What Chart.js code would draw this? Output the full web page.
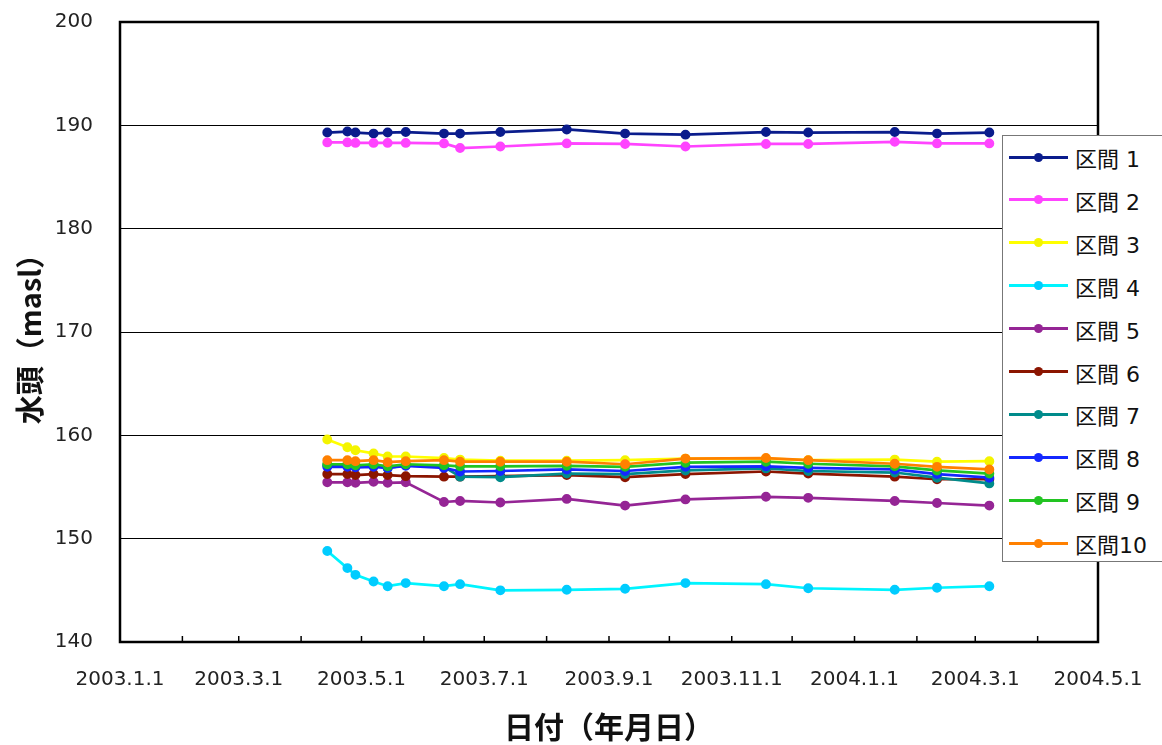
<!DOCTYPE html>
<html>
<head>
<meta charset="utf-8">
<script src="https://cdn.jsdelivr.net/npm/chart.js@4"></script>
<style>
  body { margin: 0; background: #fff; }
  #wrap { position: relative; width: 1162px; height: 745px; }
  #legend {
    position: absolute; left: 1002px; top: 135px; width: 170px; height: 427px;
    border: 1px solid #777; background: #fff; box-sizing: border-box;
    font-family: "DejaVu Sans", "Noto Sans CJK JP", sans-serif; font-size: 22px; color: #111;
  }
  .row { position: absolute; left: 0; height: 26px; display: flex; align-items: center; }
  .sw { position: relative; width: 59px; height: 3px; margin-left: 6px; margin-right: 7px; }
  .dot { position: absolute; left: 25px; top: -3px; width: 9px; height: 9px; border-radius: 50%; }
</style>
</head>
<body>
<div id="wrap">
  <canvas id="chart" width="1162" height="745"></canvas>
  <div id="legend"></div>
</div>
<script>
// measurement dates
const dates = ['2003-04-14', '2003-04-24', '2003-04-28', '2003-05-07', '2003-05-14', '2003-05-23',
  '2003-06-11', '2003-06-19', '2003-07-09', '2003-08-11', '2003-09-09', '2003-10-09',
  '2003-11-18', '2003-12-09', '2004-01-21', '2004-02-11', '2004-03-08'];

const names = ['区間 1', '区間 2', '区間 3', '区間 4', '区間 5', '区間 6', '区間 7', '区間 8', '区間 9', '区間10'];

const s1 = [189.3, 189.4, 189.3, 189.2, 189.3, 189.35, 189.2, 189.2, 189.35, 189.6, 189.2, 189.1, 189.35, 189.3, 189.35, 189.2, 189.3];
const s2 = [188.35, 188.35, 188.3, 188.3, 188.3, 188.3, 188.25, 187.8, 187.95, 188.25, 188.2, 187.95, 188.2, 188.2, 188.4, 188.25, 188.25];
const s3 = [159.6, 158.85, 158.55, 158.25, 157.95, 157.95, 157.8, 157.65, 157.55, 157.55, 157.6, 157.75, 157.75, 157.6, 157.65, 157.45, 157.5];
const s4 = [148.8, 147.15, 146.5, 145.85, 145.4, 145.7, 145.4, 145.6, 145.0, 145.05, 145.15, 145.7, 145.6, 145.2, 145.05, 145.25, 145.4];
const s5 = [155.45, 155.45, 155.4, 155.5, 155.4, 155.45, 153.55, 153.65, 153.5, 153.85, 153.2, 153.8, 154.05, 153.95, 153.65, 153.45, 153.2];
const s6 = [156.25, 156.25, 156.15, 156.25, 156.15, 156.05, 156.0, 156.0, 156.05, 156.15, 155.95, 156.25, 156.5, 156.3, 156.0, 155.75, 155.75];
const s7 = [157.1, 157.1, 157.0, 157.05, 156.85, 157.1, 156.95, 156.0, 155.95, 156.3, 156.25, 156.6, 156.8, 156.55, 156.4, 155.9, 155.35];
const s8 = [156.95, 156.95, 156.9, 156.95, 156.85, 157.05, 156.85, 156.5, 156.55, 156.7, 156.55, 156.95, 157.0, 156.85, 156.7, 156.25, 155.9];
const s9 = [157.2, 157.2, 157.1, 157.2, 157.0, 157.2, 157.1, 157.0, 157.0, 157.05, 156.95, 157.35, 157.45, 157.25, 157.0, 156.6, 156.3];
const s10 = [157.6, 157.6, 157.5, 157.6, 157.4, 157.5, 157.6, 157.45, 157.45, 157.45, 157.2, 157.75, 157.8, 157.6, 157.25, 156.95, 156.7];

const lineColors = ['#0a1c8c', '#ff44ff', '#ffff00', '#00f4ff', '#952595', '#8b1500', '#008b8b', '#1428ff', '#22c422', '#ff8000'];
const dotColors = ['#0a1c8c', '#ff44ff', '#f4f400', '#00ccff', '#952595', '#8b1500', '#008b8b', '#1428ff', '#22c422', '#ff8000'];

// x axis: labelled every 2 months, small marks every month
const tickDates = ['2003-01-01', '2003-03-01', '2003-05-01', '2003-07-01', '2003-09-01', '2003-11-01', '2004-01-01', '2004-03-01', '2004-05-01'];
const tickLabels = ['2003.1.1', '2003.3.1', '2003.5.1', '2003.7.1', '2003.9.1', '2003.11.1', '2004.1.1', '2004.3.1', '2004.5.1'];
const monthDates = ['2003-01-01', '2003-02-01', '2003-03-01', '2003-04-01', '2003-05-01', '2003-06-01', '2003-07-01', '2003-08-01',
  '2003-09-01', '2003-10-01', '2003-11-01', '2003-12-01', '2004-01-01', '2004-02-01', '2004-03-01', '2004-04-01', '2004-05-01'];

const start = Date.UTC(2003, 0, 1);
const toDay = (s) => (Date.parse(s + 'T00:00:00Z') - start) / 86400000;

const allSeries = [s1, s2, s3, s4, s5, s6, s7, s8, s9, s10];
const numFont = '"DejaVu Sans", sans-serif';
const jpFont = '"Noto Sans CJK JP", sans-serif';

const frame = {
  id: 'frame',
  afterDraw(chart) {
    const { ctx, chartArea: a, scales } = chart;
    ctx.save();
    ctx.strokeStyle = '#000';
    ctx.lineWidth = 1.5;
    monthDates.forEach(d => {
      const x = scales.x.getPixelForValue(toDay(d));
      ctx.beginPath();
      ctx.moveTo(x, a.bottom);
      ctx.lineTo(x, a.bottom - 6);
      ctx.stroke();
    });
    ctx.lineWidth = 2.5;
    ctx.strokeRect(a.left, a.top, a.right - a.left, a.bottom - a.top);
    ctx.restore();
  }
};

new Chart(document.getElementById('chart').getContext('2d'), {
  type: 'line',
  data: {
    datasets: allSeries.map((vals, i) => ({
      label: names[i],
      data: vals.map((v, j) => ({ x: toDay(dates[j]), y: v })),
      borderColor: lineColors[i],
      backgroundColor: dotColors[i],
      pointBackgroundColor: dotColors[i],
      pointBorderColor: dotColors[i],
      borderWidth: 2.7,
      pointRadius: 3.6,
      tension: 0,
      order: 10 - i
    }))
  },
  options: {
    responsive: false,
    animation: false,
    layout: { padding: { top: 22, right: 64, left: 0, bottom: 0 } },
    plugins: { legend: { display: false }, tooltip: { enabled: false } },
    scales: {
      x: {
        type: 'linear',
        min: 0,
        max: toDay('2004-05-01'),
        afterBuildTicks: (axis) => { axis.ticks = tickDates.map(d => ({ value: toDay(d) })); },
        afterFit: (axis) => { axis.height = 103; },
        // tick marks are invisible, they only push the labels down
        grid: { drawOnChartArea: false, drawTicks: true, tickLength: 24, tickColor: 'rgba(0,0,0,0)' },
        border: { display: false },
        ticks: {
          padding: 2,
          maxRotation: 0,
          autoSkip: false,
          color: '#222',
          font: { family: numFont, size: 20 },
          callback: (v) => {
            const k = tickDates.findIndex(d => toDay(d) === v);
            return k >= 0 ? tickLabels[k] : '';
          }
        },
        title: {
          display: true,
          text: '日付（年月日）',
          color: '#111',
          font: { family: jpFont, size: 30, weight: 'bold' },
          padding: { top: 0, bottom: 0 }
        }
      },
      y: {
        min: 140,
        max: 200,
        afterFit: (axis) => { axis.width = 120; },
        grid: { color: '#000', lineWidth: 1, drawTicks: true, tickLength: 25, tickColor: 'rgba(0,0,0,0)' },
        border: { display: false },
        ticks: {
          stepSize: 10,
          padding: 2,
          color: '#222',
          font: { family: numFont, size: 20 }
        },
        title: {
          display: true,
          text: '水頭（masl）',
          color: '#111',
          font: { family: jpFont, size: 29, weight: 'bold' },
          padding: { top: 13, bottom: 0 }
        }
      }
    }
  },
  plugins: [frame]
});

// legend drawn as html over the plot, like the original
const legend = document.getElementById('legend');
names.forEach((n, i) => {
  const row = document.createElement('div');
  row.className = 'row';
  row.style.top = (8 + i * 42.9) + 'px';
  row.innerHTML = `<div class="sw" style="background:${lineColors[i]}"><div class="dot" style="background:${dotColors[i]}"></div></div><span>${n}</span>`;
  legend.appendChild(row);
});
</script>
</body>
</html>
